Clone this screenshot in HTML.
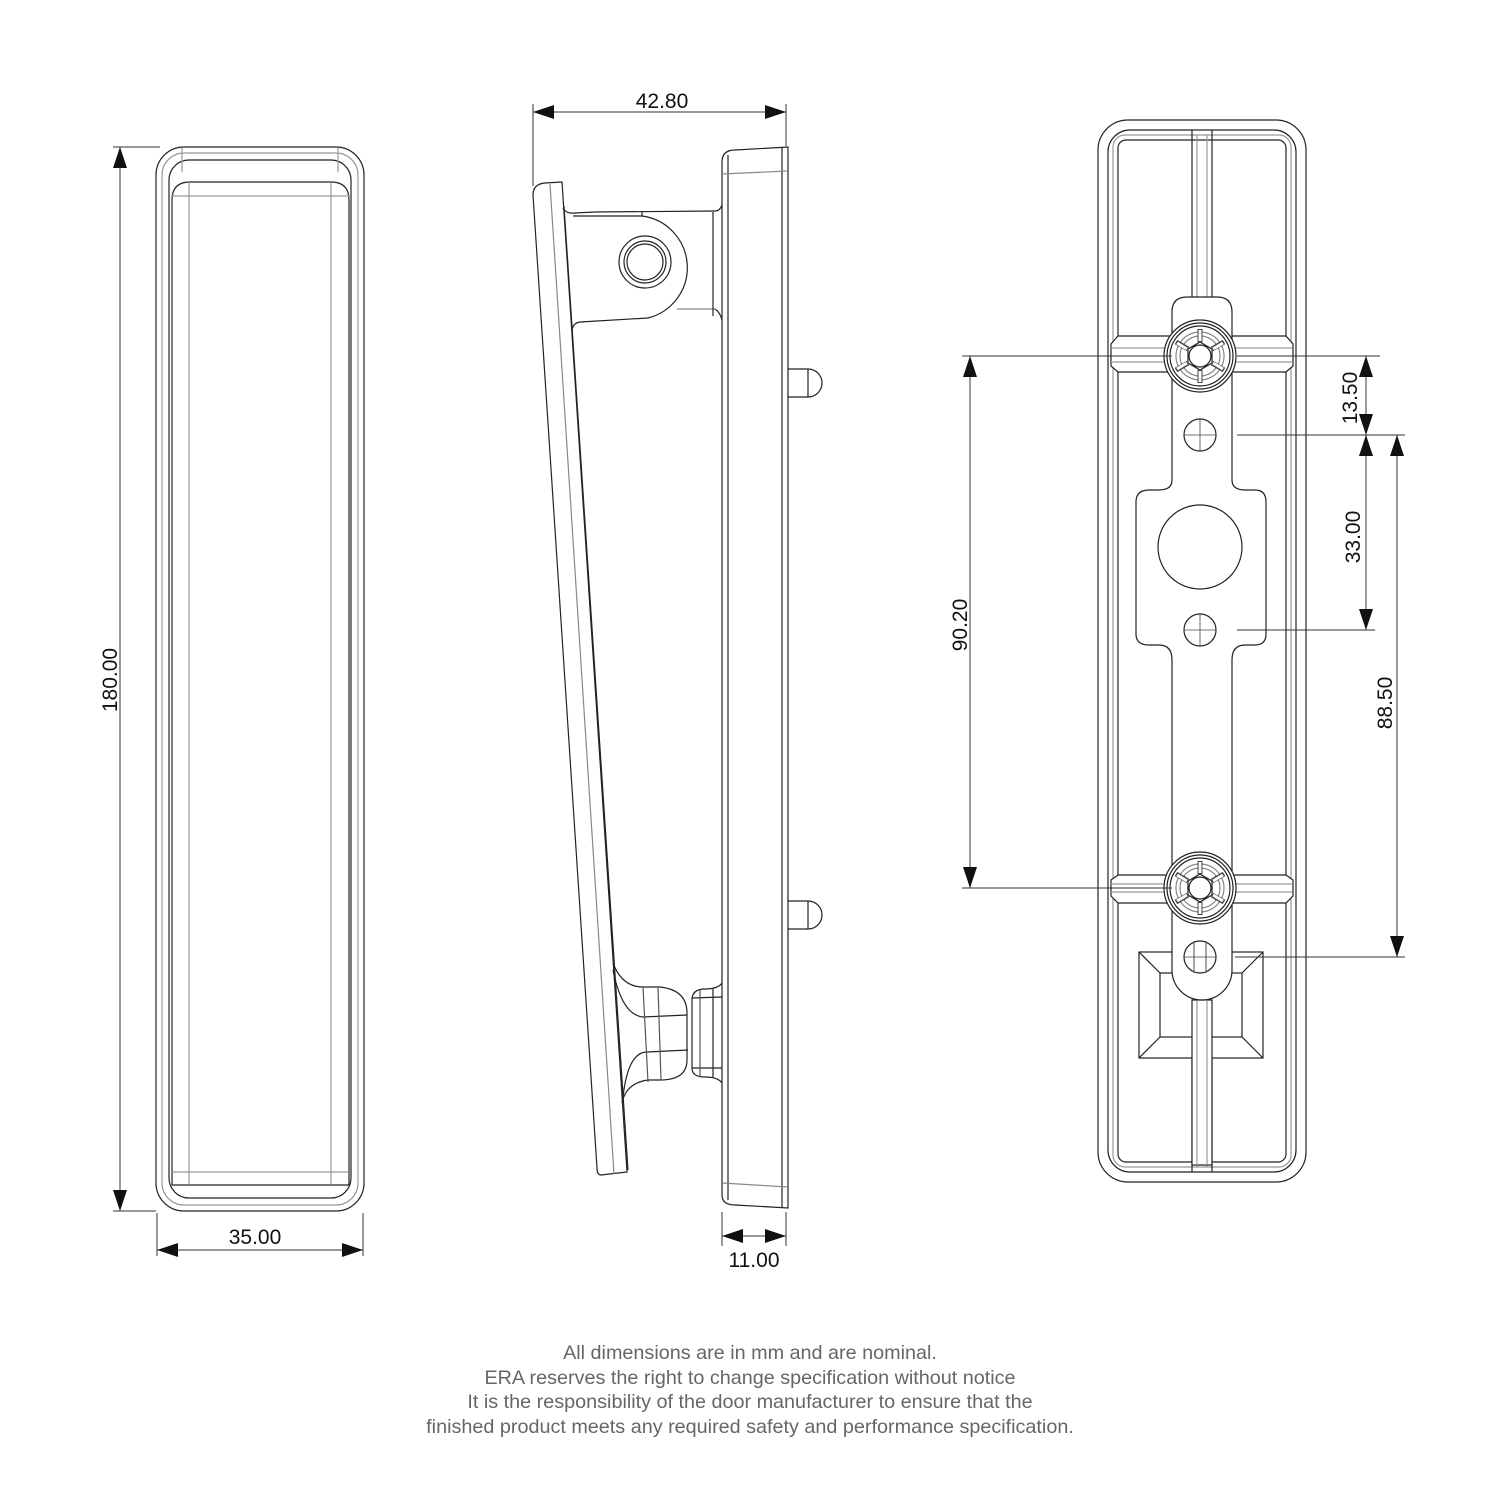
<!DOCTYPE html>
<html><head><meta charset="utf-8"><style>
html,body{margin:0;padding:0;background:#fff;}
svg{display:block;}
.t{font-family:"Liberation Sans",sans-serif;font-size:21px;fill:#111;}
.f{font-family:"Liberation Sans",sans-serif;font-size:19.8px;fill:#666;}
</style></head><body>
<svg width="1500" height="1500" viewBox="0 0 1500 1500" xmlns="http://www.w3.org/2000/svg">
<defs>
<marker id="a" markerWidth="22" markerHeight="14" refX="21" refY="7" orient="auto-start-reverse" markerUnits="userSpaceOnUse"><path d="M0,0 L21,7 L0,14 Z" fill="#111"/></marker>
</defs>
<g fill="none" stroke="#222" stroke-width="1.2">
<!-- LEFT VIEW -->
<rect x="156" y="147" width="208" height="1064" rx="28"/>
<rect x="162" y="153" width="196" height="1052" rx="22" stroke="#999"/>
<rect x="169" y="160" width="182" height="1038" rx="20"/>
<path d="M172,1185 V200 Q172,182 190,182 H331 Q349,182 349,200 V1185 Z"/>
<line x1="172" y1="196" x2="349" y2="196" stroke="#999"/>
<line x1="189" y1="182" x2="189" y2="1185" stroke="#999"/>
<line x1="331" y1="182" x2="331" y2="1185" stroke="#999"/>
<line x1="172" y1="1172" x2="349" y2="1172" stroke="#999"/>
<line x1="182" y1="148" x2="182" y2="172" stroke="#999"/>
<line x1="338" y1="148" x2="338" y2="172" stroke="#999"/>
<g stroke="#333" stroke-width="1">
<line x1="113" y1="147" x2="160" y2="147"/>
<line x1="113" y1="1211" x2="156" y2="1211"/>
<line x1="120" y1="147" x2="120" y2="1211" marker-start="url(#a)" marker-end="url(#a)"/>
<line x1="157" y1="1213" x2="157" y2="1256"/>
<line x1="363" y1="1213" x2="363" y2="1256"/>
<line x1="157" y1="1250" x2="363" y2="1250" marker-start="url(#a)" marker-end="url(#a)"/>
</g>

<!-- MIDDLE VIEW -->
<path d="M722,1195 V162 Q722,150 735,150 L788,147 V1208 L735,1205 Q722,1205 722,1195 Z"/>
<line x1="728" y1="155" x2="728" y2="1200"/>
<line x1="782" y1="148" x2="782" y2="1207"/>
<line x1="722" y1="174" x2="788" y2="171" stroke="#888"/>
<line x1="722" y1="1183" x2="788" y2="1187" stroke="#888"/>
<path d="M788,369 H808 A14,14 0 0 1 808,397 H788"/>
<line x1="808" y1="369" x2="808" y2="397"/>
<path d="M788,901 H808 A14,14 0 0 1 808,929 H788"/>
<line x1="808" y1="901" x2="808" y2="929"/>
<!-- lever -->
<path d="M533,195 Q533,184 545,183 L562,182 L627,1172 L601,1175 Q597,1175 597,1168 Z"/>
<path d="M550,184 L614,1174" stroke="#888"/>
<line x1="564" y1="206" x2="628" y2="1170"/>
<!-- top hinge -->
<path d="M563,208 Q566,214 575,213 L595,212 L715,211 Q720,211 722,205"/>
<path d="M573,216 L642,216 A52,52 0 0 1 648,318 L580,322 Q573,323 572,330"/>
<line x1="677" y1="309" x2="715" y2="309" stroke="#888"/>
<path d="M715,309 Q720,312 722,320"/>
<line x1="713" y1="212" x2="713" y2="316"/>
<line x1="642" y1="216" x2="642" y2="211"/>
<circle cx="645" cy="262" r="26"/>
<circle cx="645" cy="262" r="21"/>
<circle cx="645" cy="262" r="18"/>
<!-- bottom hinge -->
<path d="M613,963 Q622,987 643,987 H660 Q687,990 687,1013 V1060 Q687,1080 660,1080 H648 Q626,1083 622,1103"/>
<path d="M613,970 Q622,1015 643,1017 L687,1015"/>
<path d="M623,1097 Q628,1052 647,1052 L688,1050"/>
<line x1="643" y1="987" x2="648" y2="1082" stroke="#555"/>
<line x1="658" y1="987" x2="661" y2="1080" stroke="#555"/>
<path d="M722,983 Q718,989 705,989 Q692,989 692,1000 V1068 Q692,1077 705,1077 Q718,1077 722,1083"/>
<line x1="692" y1="998" x2="722" y2="997"/>
<line x1="692" y1="1068" x2="722" y2="1068"/>
<line x1="700" y1="990" x2="700" y2="1077" stroke="#555"/>
<line x1="713" y1="989" x2="713" y2="1077"/>
<g stroke="#333" stroke-width="1">
<line x1="533" y1="104" x2="533" y2="186"/>
<line x1="786" y1="104" x2="786" y2="146"/>
<line x1="533" y1="112" x2="786" y2="112" marker-start="url(#a)" marker-end="url(#a)"/>
<line x1="722" y1="1212" x2="722" y2="1246"/>
<line x1="786" y1="1212" x2="786" y2="1246"/>
<line x1="722" y1="1236" x2="786" y2="1236" marker-start="url(#a)" marker-end="url(#a)"/>
</g>

<!-- RIGHT VIEW -->
<rect x="1098" y="120" width="208" height="1062" rx="30"/>
<rect x="1108" y="130" width="188" height="1042" rx="22"/>
<rect x="1113" y="135" width="178" height="1032" rx="12" stroke="#999"/>
<rect x="1118" y="140" width="168" height="1022" rx="8"/>
<line x1="1192" y1="130" x2="1192" y2="1172"/>
<line x1="1212" y1="130" x2="1212" y2="1172"/>
<line x1="1197" y1="135" x2="1197" y2="1167" stroke="#999"/>
<line x1="1207" y1="135" x2="1207" y2="1167" stroke="#999"/>
<path d="M1111,344 L1118,336 H1286 L1293,344 V366 L1286,372 H1118 L1111,366 Z" fill="#fff"/>
<line x1="1111" y1="348" x2="1293" y2="348" stroke="#999"/>
<line x1="1111" y1="362" x2="1293" y2="362" stroke="#999"/>
<path d="M1111,880 L1118,875 H1286 L1293,880 V896 L1286,903 H1118 L1111,896 Z" fill="#fff"/>
<line x1="1111" y1="884" x2="1293" y2="884" stroke="#999"/>
<line x1="1111" y1="892" x2="1293" y2="892" stroke="#999"/>
<rect x="1139" y="952" width="124" height="106" fill="#fff"/>
<rect x="1160" y="973" width="82" height="64"/>
<path d="M1139,952 L1160,973 M1263,952 L1242,973 M1139,1058 L1160,1037 M1263,1058 L1242,1037"/>
<rect x="1192" y="1000" width="20" height="165" fill="#fff"/>
<line x1="1197" y1="1000" x2="1197" y2="1165" stroke="#999"/>
<line x1="1207" y1="1000" x2="1207" y2="1165" stroke="#999"/>
<path d="M1172,312 Q1172,297 1187,297 H1217 Q1232,297 1232,312 V480 Q1232,490 1245,490 H1255 Q1266,490 1266,502 V634 Q1266,645 1255,645 H1245 Q1232,645 1232,660 V970 A30,30 0 0 1 1172,970 V660 Q1172,645 1159,645 H1149 Q1136,645 1136,634 V502 Q1136,490 1149,490 H1159 Q1172,490 1172,480 Z" fill="#fff"/>
<circle cx="1200" cy="547" r="42"/>
<circle cx="1200" cy="435" r="16"/>
<circle cx="1200" cy="630" r="16"/>
<circle cx="1200" cy="957" r="16"/>
<line x1="1194" y1="941" x2="1194" y2="973" stroke="#666"/>
<line x1="1206" y1="941" x2="1206" y2="973" stroke="#666"/>
<g stroke="#444" stroke-width="0.8">
<line x1="1184" y1="435" x2="1216" y2="435"/><line x1="1200" y1="419" x2="1200" y2="451"/>
<line x1="1184" y1="630" x2="1216" y2="630"/><line x1="1200" y1="614" x2="1200" y2="646"/>
<line x1="1184" y1="957" x2="1216" y2="957"/>
</g>
<g id="b1">
<circle cx="1200" cy="356" r="36" fill="#fff"/>
<circle cx="1200" cy="356" r="33"/>
<circle cx="1200" cy="356" r="30"/>
<circle cx="1200" cy="356" r="24" stroke="#888"/>
<circle cx="1200" cy="356" r="20" stroke="#888"/>
<path d="M1200,342 L1212,349 V363 L1200,370 L1188,363 V349 Z"/>
<circle cx="1200" cy="356" r="11"/>
<g stroke-width="5" stroke="#444">
<line x1="1200" y1="329" x2="1200" y2="342"/>
<line x1="1200" y1="370" x2="1200" y2="383"/>
<line x1="1176" y1="342" x2="1188" y2="349"/>
<line x1="1224" y1="342" x2="1212" y2="349"/>
<line x1="1176" y1="370" x2="1188" y2="363"/>
<line x1="1224" y1="370" x2="1212" y2="363"/>
</g>
<g stroke-width="3" stroke="#fff">
<line x1="1200" y1="330" x2="1200" y2="341"/>
<line x1="1200" y1="371" x2="1200" y2="382"/>
<line x1="1177" y1="343" x2="1187" y2="349"/>
<line x1="1223" y1="343" x2="1213" y2="349"/>
<line x1="1177" y1="369" x2="1187" y2="363"/>
<line x1="1223" y1="369" x2="1213" y2="363"/>
</g>
</g>
<use href="#b1" transform="translate(0,532)"/>
<g stroke="#333" stroke-width="1">
<line x1="962" y1="356" x2="1172" y2="356"/>
<line x1="962" y1="888" x2="1172" y2="888"/>
<line x1="970" y1="356" x2="970" y2="888" marker-start="url(#a)" marker-end="url(#a)"/>
<line x1="1237" y1="356" x2="1380" y2="356"/>
<line x1="1237" y1="435" x2="1405" y2="435"/>
<line x1="1237" y1="630" x2="1375" y2="630"/>
<line x1="1235" y1="957" x2="1405" y2="957"/>
<line x1="1366" y1="356" x2="1366" y2="435" marker-start="url(#a)" marker-end="url(#a)"/>
<line x1="1366" y1="435" x2="1366" y2="630" marker-start="url(#a)" marker-end="url(#a)"/>
<line x1="1397" y1="435" x2="1397" y2="957" marker-start="url(#a)" marker-end="url(#a)"/>
</g>
</g>
<g class="t">
<text x="117" y="680" text-anchor="middle" transform="rotate(-90 117 680)">180.00</text>
<text x="255" y="1244" text-anchor="middle">35.00</text>
<text x="662" y="108" text-anchor="middle">42.80</text>
<text x="754" y="1267" text-anchor="middle">11.00</text>
<text x="967" y="625" text-anchor="middle" transform="rotate(-90 967 625)">90.20</text>
<text x="1357" y="398" text-anchor="middle" transform="rotate(-90 1357 398)">13.50</text>
<text x="1360" y="537" text-anchor="middle" transform="rotate(-90 1360 537)">33.00</text>
<text x="1392" y="703" text-anchor="middle" transform="rotate(-90 1392 703)">88.50</text>
</g>
<g class="f" text-anchor="middle">
<text x="750" y="1359">All dimensions are in mm and are nominal.</text>
<text x="750" y="1384">ERA reserves the right to change specification without notice</text>
<text x="750" y="1408">It is the responsibility of the door manufacturer to ensure that the</text>
<text x="750" y="1433">finished product meets any required safety and performance specification.</text>
</g>
</svg>
</body></html>
